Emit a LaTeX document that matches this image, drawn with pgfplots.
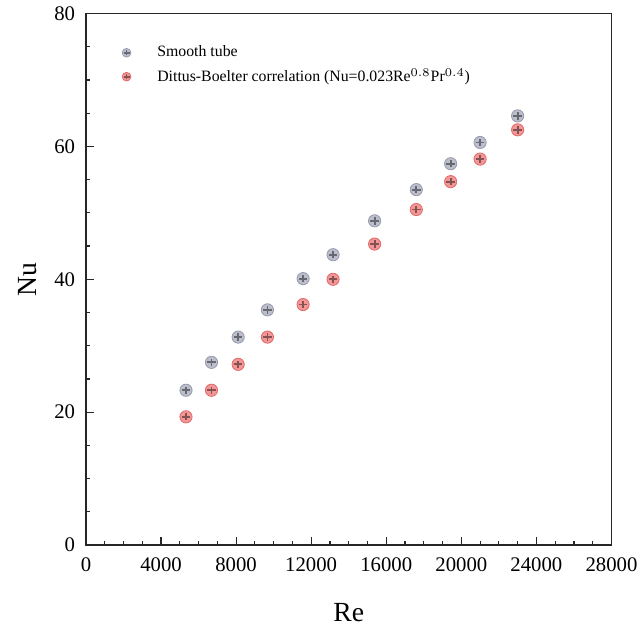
\documentclass[border=0pt]{standalone}
\usepackage{fontspec}
\setmainfont{Liberation Serif}
\usepackage{pgfplots}
\pgfplotsset{compat=1.18}

\pgfplotstableread{
Re      Nu
5330    23.3
6690    27.5
8110    31.3
9670    35.4
11570   40.1
13165   43.7
15380   48.8
17600   53.5
19430   57.4
21000   60.6
23000   64.6
}\smooth

\pgfplotstableread{
Re      Nu
5330    19.3
6690    23.3
8110    27.2
9670    31.3
11570   36.2
13165   40.0
15380   45.3
17600   50.5
19430   54.7
21000   58.1
23000   62.5
}\dittus

\definecolor{smoothfill}{RGB}{188,190,204}
\definecolor{smoothdraw}{RGB}{150,154,172}
\definecolor{dittusfill}{RGB}{242,150,150}
\definecolor{dittusdraw}{RGB}{226,105,105}

% filled circle with a dark cross, like the shaded spheres of the original
\pgfdeclareplotmark{spherex}{%
  \pgfpathcircle{\pgfpointorigin}{\pgfplotmarksize}%
  \pgfusepathqfillstroke
  \begin{pgfscope}
  \pgfsetlinewidth{0.9pt}%
  \pgfsetstrokeopacity{0.45}%
  \pgfsetstrokecolor{black}%
  \pgfpathmoveto{\pgfqpoint{-0.7\pgfplotmarksize}{0pt}}%
  \pgfpathlineto{\pgfqpoint{0.7\pgfplotmarksize}{0pt}}%
  \pgfpathmoveto{\pgfqpoint{0pt}{-0.6\pgfplotmarksize}}%
  \pgfpathlineto{\pgfqpoint{0pt}{0.6\pgfplotmarksize}}%
  \pgfusepathqstroke
  \end{pgfscope}
}

\begin{document}
\begin{tikzpicture}
\begin{axis}[
    scale only axis,
    width=266pt, height=269pt,
    xmin=0, xmax=28000, ymin=0, ymax=80,
    xtick={0,4000,...,28000},
    ytick={0,20,...,80},
    minor x tick num=3,
    minor y tick num=3,
    tick pos=left,
    tick align=inside,
    major tick length=4pt,
    minor tick length=2pt,
    axis line style={line width=0.8pt, black!85},
    every tick/.style={black!85, line width=0.6pt},
    scaled x ticks=false,
    /pgf/number format/assume math mode=true,
    xticklabel style={/pgf/number format/set thousands separator={},
        font=\fontsize{10.5}{12}\selectfont, yshift=-3pt},
    yticklabel style={font=\fontsize{10.5}{12}\selectfont, xshift=-2pt},
    xlabel={Re}, ylabel={Nu},
    label style={font=\fontsize{14}{16}\selectfont},
    xlabel style={yshift=-9pt},
    ylabel style={yshift=2pt},
    legend style={at={(0.057,0.955)}, anchor=north west, draw=none, fill=none,
        font=\fontsize{8}{9}\selectfont, row sep=0.5pt},
    legend cell align=left,
    legend image code/.code={%
        \draw[#1, mark size=2.2pt] plot coordinates {(0.15cm,0cm)};
        \path (0.62cm,0cm);},
]
\addplot[only marks, mark=spherex, mark size=3.1pt,
    mark options={fill=smoothfill, draw=smoothdraw, line width=0.4pt}] table[x=Re, y=Nu] {\smooth};
\addplot[only marks, mark=spherex, mark size=3.1pt,
    mark options={fill=dittusfill, draw=dittusdraw, line width=0.4pt}] table[x=Re, y=Nu] {\dittus};
\legend{Smooth tube, Dittus-Boelter correlation (Nu=0.023Re$^{0.8}$Pr$^{0.4}$)}
\end{axis}
\path (current axis.south west) +(-43.5pt,-37pt);
\end{tikzpicture}
\end{document}
